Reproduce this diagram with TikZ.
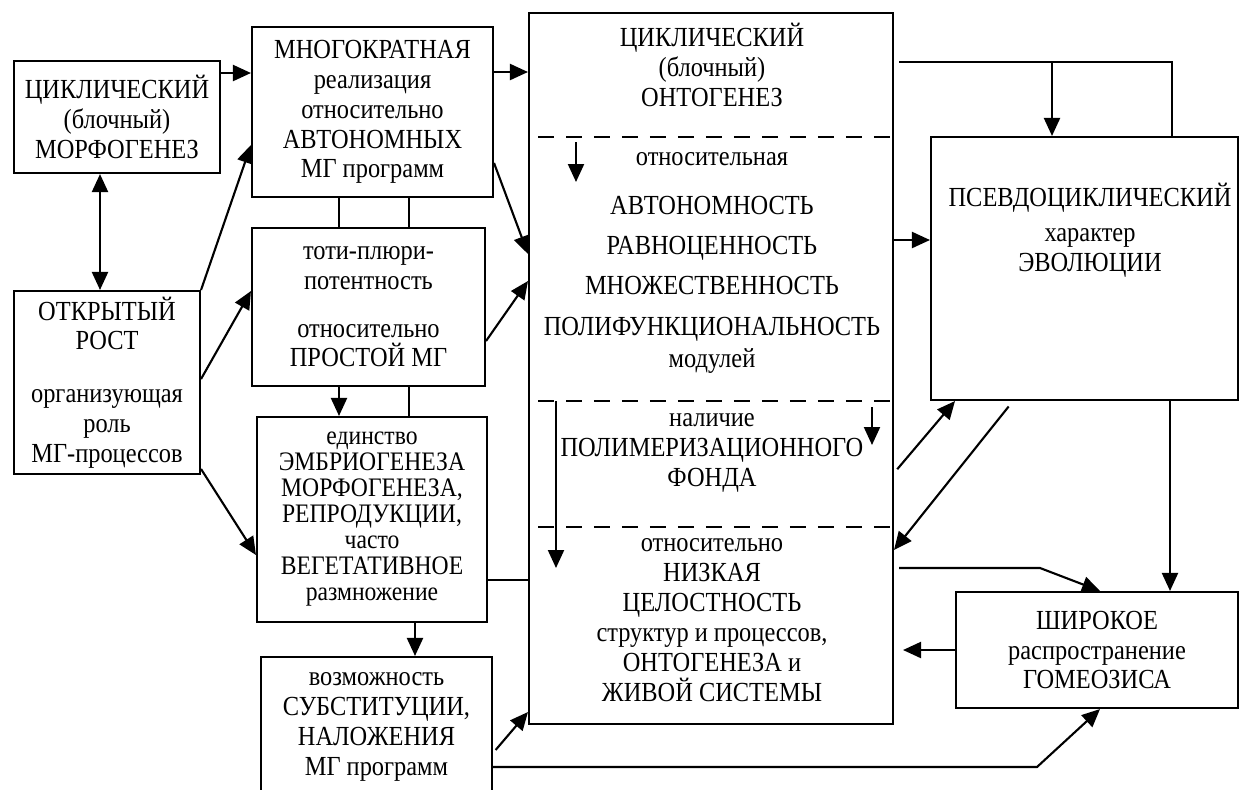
\documentclass[tikz,border=0pt]{standalone}
\usepackage{fontspec}
\setmainfont[FakeStretch=0.885]{Liberation Serif}
\usetikzlibrary{arrows.meta}

\begin{document}
\begin{tikzpicture}[x=0.02cm, y=-0.02cm]
            \tikzstyle{blk}=[draw, rectangle, line width=1.2pt, inner sep=0pt, align=center, font=\fontsize{15.7}{17}\selectfont]
            \tikzstyle{txt}=[align=center, inner sep=0pt, font=\fontsize{15.7}{17}\selectfont]
            \tikzstyle{lnk}=[line width=1.2pt]
            \tikzstyle{arr}=[line width=1.2pt, -{Triangle[length=0.36cm,width=0.32cm]}]
            \tikzstyle{arrs}=[line width=1.2pt, {Triangle[length=0.36cm,width=0.32cm]}-{Triangle[length=0.36cm,width=0.32cm]}]
            \tikzstyle{sep}=[line width=1.6pt, dash pattern=on 0.32cm off 0.24cm]
            \useasboundingbox (0,0) rectangle (1241,789);

            \node[blk, minimum width=4.12cm, minimum height=2.24cm] (b1) at (117,117) {ЦИКЛИЧЕСКИЙ\\(блочный)\\МОРФОГЕНЕЗ};
            \node[blk, minimum width=4.82cm, minimum height=3.40cm] (b2) at (372.5,112) {МНОГОКРАТНАЯ\\реализация\\относительно\\АВТОНОМНЫХ\\МГ программ};
            \node[blk, minimum width=4.66cm, minimum height=3.16cm] (b3) at (368.5,307) {тоти-плюри-\\потентность\\[10pt]относительно\\ПРОСТОЙ МГ};
            \node[blk, minimum width=3.72cm, minimum height=3.66cm] (b4) at (107,382.5) {ОТКРЫТЫЙ\\РОСТ\\[13pt]организующая\\роль\\МГ-процессов};
            \node[blk, minimum width=4.60cm, minimum height=4.10cm, font=\fontsize{15.2}{14.8}\selectfont] (b5) at (372,519.5) {единство\\ЭМБРИОГЕНЕЗА\\МОРФОГЕНЕЗА,\\РЕПРОДУКЦИИ,\\часто\\ВЕГЕТАТИВНОЕ\\размножение};
            \node[blk, minimum width=4.62cm, minimum height=2.80cm] (b6) at (376.5,727) {возможность\\СУБСТИТУЦИИ,\\НАЛОЖЕНИЯ\\МГ программ};
            \node[blk, minimum width=7.28cm, minimum height=14.22cm] (b7) at (711,368.5) {};
            \node[blk, minimum width=6.14cm, minimum height=5.26cm] (b8) at (1084.5,268.5) {};
            \node[blk, minimum width=5.64cm, minimum height=2.32cm] (b9) at (1097,650) {ШИРОКОЕ\\распространение\\ГОМЕОЗИСА};

            \node[txt] (onto) at (712,65) {ЦИКЛИЧЕСКИЙ\\(блочный)\\ОНТОГЕНЕЗ};
            \node[txt] (modul) at (712,263) {относительная\\[11pt]АВТОНОМНОСТЬ\\[5.7pt]РАВНОЦЕННОСТЬ\\[5.7pt]МНОЖЕСТВЕННОСТЬ\\[6.5pt]ПОЛИФУНКЦИОНАЛЬНОСТЬ\\[1pt]модулей};
            \node[txt] (fond) at (712,453) {наличие\\ПОЛИМЕРИЗАЦИОННОГО\\ФОНДА};
            \node[txt] (celost) at (712,620) {относительно\\НИЗКАЯ\\ЦЕЛОСТНОСТЬ\\структур и процессов,\\ОНТОГЕНЕЗА и\\ЖИВОЙ СИСТЕМЫ};
            \node[txt] (evol) at (1090,230) {ПСЕВДОЦИКЛИЧЕСКИЙ\\[3pt]характер\\ЭВОЛЮЦИИ};

            \draw[sep] (538,137) -- (b7.east |- 0,137);
            \draw[sep] (538,401) -- (b7.east |- 0,401);
            \draw[sep] (538,527) -- (b7.east |- 0,527);

            \coordinate (s1) at (576,142);
            \coordinate (e1) at (576,182);
            \coordinate (s2) at (872,407);
            \coordinate (e2) at (872,445);
            \coordinate (s3) at (556,401);
            \coordinate (e3) at (556,568);
            \draw[arr] (s1) -- (e1);
            \draw[arr] (s2) -- (e2);
            \draw[arr] (s3) -- (e3);

            \draw[arr] (b1.east |- 0,73) -- (b2.west |- 0,73);
            \draw[arr] (b2.east |- 0,72) -- (b7.west |- 0,72);
            \draw[arrs] (b1.south -| 100,0) -- (b4.north -| 100,0);
            \draw[arr] (b4.north east) -- (b2.west |- 0,145);
            \draw[arr] (b4.east |- 0,379) -- (b3.west |- 0,291);
            \draw[arr] (b4.east |- 0,469) -- (b5.west |- 0,555);
            \draw[arr] (b2.east |- 0,163) -- (b7.west |- 0,254);
            \draw[arr] (b3.east |- 0,341) -- (b7.west |- 0,281);

            \draw[lnk] (b2.south -| 339,0) -- (b3.north -| 339,0);
            \draw[lnk] (b2.south -| 409,0) -- (b3.north -| 409,0);
            \draw[arr] (b3.south -| 339,0) -- (b5.north -| 339,0);
            \draw[lnk] (b3.south -| 409,0) -- (b5.north -| 409,0);
            \draw[lnk] (b5.east |- 0,580) -- (b7.west |- 0,580);
            \draw[arr] (b5.south -| 415,0) -- (b6.north -| 415,0);
            \draw[arr, shorten <=0.08cm] (b6.east |- 0,753) -- (b7.west |- 0,712);
            \draw[arr] (b6.east |- 0,767) -- (1037,767) -- (b9.south -| 1100,0);

            \coordinate (top) at (1052,62);
            \draw[lnk, shorten <=0.1cm] (b7.east |- 0,62) -- (1172,62) -- (b8.north -| 1172,0);
            \draw[arr] (top) -- (b8.north -| top);
            \draw[arr] (b7.east |- 0,240) -- (b8.west |- 0,240);
            \draw[arr, shorten <=0.1cm] (b7.east |- 0,473) -- (b8.south -| 955,0);
            \draw[arr, shorten <=0.14cm] (b8.south -| 1013,0) -- (b7.east |- 0,550);
            \draw[arr] (b8.south -| 1170,0) -- (b9.north -| 1170,0);
            \draw[arr, shorten <=0.1cm] (b7.east |- 0,568) -- (1040,568) -- (b9.north -| 1100,0);
            \draw[arr, shorten >=0.18cm] (b9.west |- 0,650) -- (b7.east |- 0,650);
\end{tikzpicture}
\end{document}
